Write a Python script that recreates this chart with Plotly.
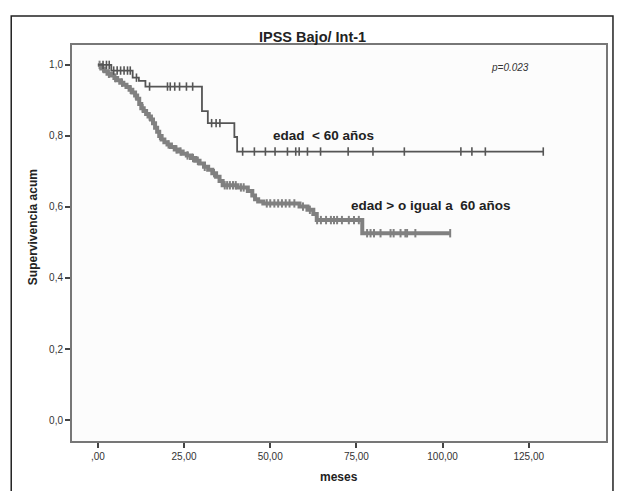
import numpy as np
import plotly.graph_objects as go

# ---- data: Kaplan-Meier steps ----
# group "edad < 60 años"
t_lt60 = [0, 3.9, 10.1, 11.9, 13.8, 30.2, 31.9, 39.6, 40.4, 129.2]
s_lt60 = [1.0, 0.984, 0.964, 0.955, 0.939, 0.870, 0.836, 0.797, 0.756, 0.756]
cens_lt60 = [1.5, 2.5, 3.3, 4.6, 5.6, 6.6, 7.6, 8.6, 9.4, 11.2, 15.0, 20.2, 21.0,
             22.3, 23.7, 25.7, 27.5, 33.0, 34.3, 35.4, 42.0, 45.4, 48.6, 51.4,
             55.0, 57.4, 58.4, 60.8, 64.6, 72.6, 79.8, 88.9, 105.3, 108.5, 112.4, 129.2]

# group "edad > o igual a 60 años"
t_ge60 = [0, 1.0, 2.0, 2.8, 3.8, 4.8, 5.6, 6.5, 7.4, 8.3, 9.2, 10.0, 10.8, 11.4,
          12.0, 12.6, 13.3, 14.0, 14.7, 15.4, 16.0, 16.6, 17.2, 17.8, 18.5, 19.3,
          20.2, 21.2, 22.3, 23.4, 24.6, 25.8, 27.0, 28.3, 29.5, 30.8, 32.0, 33.2,
          34.3, 35.3, 36.2, 40.5, 43.5, 44.8, 45.6, 46.5, 48.0, 58.5, 60.8, 62.5,
          63.5, 76.7, 102.3]
s_ge60 = [1.0, 0.990, 0.982, 0.975, 0.970, 0.963, 0.957, 0.950, 0.944, 0.938, 0.930,
          0.922, 0.914, 0.905, 0.890, 0.878, 0.870, 0.862, 0.855, 0.846, 0.836, 0.823,
          0.812, 0.800, 0.790, 0.782, 0.776, 0.769, 0.762, 0.756, 0.750, 0.745, 0.738,
          0.730, 0.722, 0.713, 0.705, 0.695, 0.685, 0.673, 0.661, 0.655, 0.645, 0.632,
          0.622, 0.615, 0.610, 0.601, 0.592, 0.580, 0.563, 0.526, 0.526]
cens_ge60 = [0.5, 1.5, 3.2, 5.0, 7.0, 9.5, 11.0, 13.0, 15.0, 18.0, 20.5, 22.8, 24.0,
             26.0, 27.6, 29.0, 31.0, 33.7, 36.8, 37.5, 38.3, 39.2, 40.0, 41.5, 42.3,
             49.0, 50.0, 51.2, 52.3, 53.4, 54.5, 55.6, 57.0, 59.5, 61.5, 63.6, 64.7,
             66.2, 67.6, 68.5, 69.4, 70.8, 72.8, 74.3, 75.7, 78.1, 79.1, 80.1, 82.0,
             84.9, 85.8, 87.8, 89.2, 89.7, 92.1, 102.2]

x_tickvals = [0, 25, 50, 75, 100, 125]
x_ticktext = [",00", "25,00", "50,00", "75,00", "100,00", "125,00"]
y_tickvals = [0.0, 0.2, 0.4, 0.6, 0.8, 1.0]
y_ticktext = ["0,0", "0,2", "0,4", "0,6", "0,8", "1,0"]


def surv_at(times, surv, t):
    idx = np.searchsorted(np.array(times), np.array(t), side="right") - 1
    return np.array(surv)[idx]


FONT = "Liberation Sans, Arial, sans-serif"
c1 = "#555555"
c2 = "#808080"

fig = go.Figure()
fig.add_trace(go.Scatter(x=t_ge60, y=s_ge60, mode="lines", line=dict(shape="hv", color=c2, width=4),
                         hoverinfo="skip", showlegend=False))
fig.add_trace(go.Scatter(x=cens_ge60, y=surv_at(t_ge60, s_ge60, cens_ge60), mode="markers",
                         marker=dict(symbol="line-ns", size=6, line=dict(color=c2, width=2)),
                         hoverinfo="skip", showlegend=False))
fig.add_trace(go.Scatter(x=t_lt60, y=s_lt60, mode="lines", line=dict(shape="hv", color=c1, width=1.8),
                         hoverinfo="skip", showlegend=False))
fig.add_trace(go.Scatter(x=cens_lt60, y=surv_at(t_lt60, s_lt60, cens_lt60), mode="markers",
                         marker=dict(symbol="line-ns", size=6, line=dict(color=c1, width=1.6)),
                         hoverinfo="skip", showlegend=False))

L, R, T, B = 72, 9, 45, 50
W, H = 617, 491
pw, ph = W - L - R, H - T - B


def px(xp):
    return (xp - L) / pw


def py(yp):
    return (H - B - yp) / ph


def label(text, xp, yp, size, color="#222", angle=0):
    return dict(text=text, x=px(xp), y=py(yp), xref="paper", yref="paper",
                xanchor="center", yanchor="middle", showarrow=False, textangle=angle,
                font=dict(size=size, color=color, family=FONT))


ann = [
    label("<b>IPSS Bajo/ Int-1</b>", 313, 37, 14.5),
    label("<i>p=0.023</i>", 512, 67, 10, "#333"),
    label("<b>edad  &lt; 60 años</b>", 324, 135, 13.5),
    label("<b>edad &gt; o igual a  60 años</b>", 432, 205, 13.5),
    label("<b>Supervivencia acum</b>", 33, 227, 12, angle=-90),
    label("<b>meses</b>", 340, 477, 12),
]

fig.update_layout(
    width=W, height=H,
    margin=dict(l=L, r=R, t=T, b=B),
    paper_bgcolor="white", plot_bgcolor="#fcfcfc",
    annotations=ann,
    shapes=[dict(type="rect", xref="paper", yref="paper", x0=px(11), x1=px(615),
                 y0=py(520), y1=py(16), line=dict(color="#222", width=1.5))],
    xaxis=dict(range=[-7.5, 147.4], tickvals=x_tickvals, ticktext=x_ticktext,
               showgrid=False, zeroline=False, showline=True, mirror=True,
               linecolor="#777", linewidth=2, ticks="outside", ticklen=5, tickwidth=1.5,
               tickcolor="#444", tickfont=dict(size=10, color="#333", family=FONT)),
    yaxis=dict(range=[-0.059, 1.056], tickvals=y_tickvals, ticktext=y_ticktext,
               showgrid=False, zeroline=False, showline=True, mirror=True,
               linecolor="#777", linewidth=2, ticks="outside", ticklen=5, tickwidth=1.5,
               tickcolor="#444", tickfont=dict(size=10, color="#333", family=FONT)),
)

fig.write_html("out.html", config={"displayModeBar": False},
               post_script="document.body.style.margin='0';document.body.style.padding='0';")
